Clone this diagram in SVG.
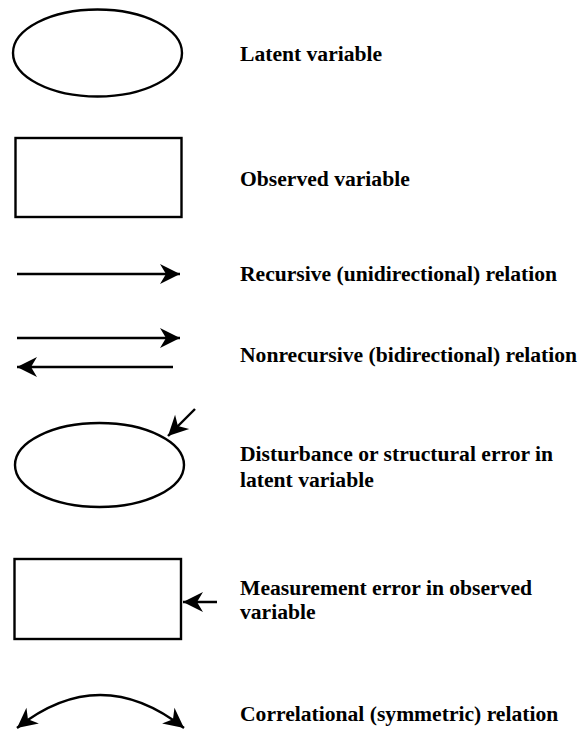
<svg xmlns="http://www.w3.org/2000/svg" width="578" height="733" viewBox="0 0 578 733">
  <style>
    .shape { fill: #ffffff; stroke: #000000; stroke-width: 2.4; }
    .edge { fill: none; stroke: #000000; stroke-width: 2.4; }
    .label { font-family: "Liberation Serif", "Times New Roman", serif; font-weight: bold; font-size: 21.6px; fill: #000000; }
  </style>
  <defs>
    <marker id="head" markerUnits="userSpaceOnUse" markerWidth="24" markerHeight="24" viewBox="-22 -12 24 24" refX="0" refY="0" orient="auto-start-reverse">
      <path d="M0,0 L-20,-10 L-14,0 L-20,10 Z" fill="#000000"/>
    </marker>
  </defs>

  <rect width="578" height="733" fill="#ffffff"/>

  <!-- Latent variable -->
  <g id="latent">
    <ellipse class="shape" cx="97.5" cy="53" rx="84.5" ry="43.5"/>
    <text class="label" x="240" y="61">Latent variable</text>
  </g>

  <!-- Observed variable -->
  <g id="observed">
    <rect class="shape" x="15.5" y="138" width="166" height="79"/>
    <text class="label" x="240" y="186">Observed variable</text>
  </g>

  <!-- Recursive relation -->
  <g id="recursive">
    <text class="label" x="240" y="281">Recursive (unidirectional) relation</text>
  </g>

  <!-- Nonrecursive relation -->
  <g id="nonrecursive">
    <text class="label" x="240" y="362">Nonrecursive (bidirectional) relation</text>
  </g>

  <!-- Disturbance -->
  <g id="disturbance">
    <ellipse class="shape" cx="99.5" cy="465" rx="84.5" ry="42"/>
    <text class="label" x="240" y="461">Disturbance or structural error in</text>
    <text class="label" x="240" y="487">latent variable</text>
  </g>

  <!-- Measurement error -->
  <g id="measurement">
    <rect class="shape" x="14.5" y="559" width="166.5" height="80"/>
    <text class="label" x="240" y="595">Measurement error in observed</text>
    <text class="label" x="240" y="619">variable</text>
  </g>

  <!-- Correlational relation -->
  <g id="correlational">
    <text class="label" x="240" y="721">Correlational (symmetric) relation</text>
  </g>

  <!-- Connectors -->
  <g id="connectors">
    <line class="edge" x1="17" y1="274" x2="180" y2="274" marker-end="url(#head)"/>
    <line class="edge" x1="17" y1="338" x2="180" y2="338" marker-end="url(#head)"/>
    <line class="edge" x1="173" y1="367" x2="17" y2="367" marker-end="url(#head)"/>
    <line class="edge" x1="195" y1="409" x2="168" y2="436" marker-end="url(#head)"/>
    <line class="edge" x1="217" y1="602" x2="183" y2="602" marker-end="url(#head)"/>
    <path class="edge" d="M17,728 Q100,662 184,728" marker-start="url(#head)" marker-end="url(#head)"/>
  </g>
</svg>
